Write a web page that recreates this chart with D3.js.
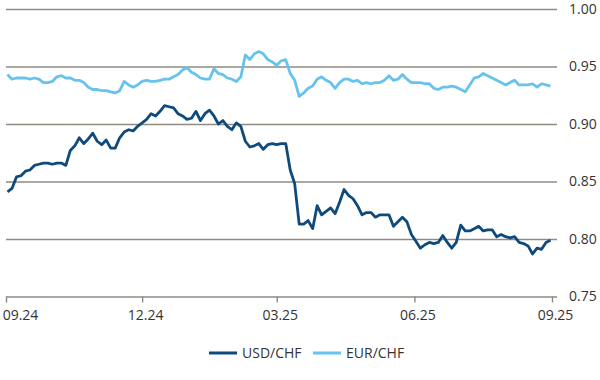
<!DOCTYPE html>
<html>
<head>
<meta charset="utf-8">
<script src="https://cdn.jsdelivr.net/npm/d3@7"></script>
<style>
  body { margin: 0; background: #fff; }
  text { font-family: "Open Sans", "Noto Sans", sans-serif; fill: #333; }
</style>
</head>
<body>
<div id="chart"></div>
<script>
    const usdchf = [
        0.841, 0.844, 0.854, 0.855, 0.859, 0.860, 0.864, 0.865, 0.866, 0.866,
        0.865, 0.866, 0.866, 0.864, 0.877, 0.881, 0.888, 0.883, 0.887, 0.892,
        0.885, 0.882, 0.886, 0.879, 0.879, 0.888, 0.893, 0.895, 0.894, 0.898,
        0.901, 0.904, 0.909, 0.907, 0.911, 0.916, 0.915, 0.914, 0.909, 0.907,
        0.904, 0.905, 0.911, 0.903, 0.909, 0.912, 0.907, 0.900, 0.903, 0.898,
        0.895, 0.901, 0.898, 0.885, 0.880, 0.881, 0.883, 0.878, 0.882, 0.883,
        0.882, 0.883, 0.883, 0.860, 0.848, 0.813, 0.813, 0.816, 0.809, 0.829,
        0.821, 0.824, 0.827, 0.822, 0.832, 0.843, 0.838, 0.835, 0.829, 0.821,
        0.823, 0.823, 0.819, 0.821, 0.821, 0.821, 0.811, 0.815, 0.819, 0.815,
        0.804, 0.798, 0.792, 0.795, 0.797, 0.796, 0.797, 0.803, 0.797, 0.792,
        0.797, 0.812, 0.807, 0.807, 0.809, 0.811, 0.807, 0.808, 0.808, 0.802,
        0.804, 0.802, 0.801, 0.802, 0.797, 0.796, 0.794, 0.787, 0.792, 0.791,
        0.797, 0.799
    ];
    const eurchf = [
        0.943, 0.939, 0.940, 0.940, 0.940, 0.939, 0.940, 0.939, 0.936, 0.936,
        0.937, 0.941, 0.942, 0.940, 0.940, 0.938, 0.938, 0.936, 0.932, 0.930,
        0.930, 0.929, 0.929, 0.928, 0.927, 0.929, 0.937, 0.934, 0.932, 0.934,
        0.937, 0.938, 0.937, 0.937, 0.938, 0.939, 0.939, 0.941, 0.943, 0.947,
        0.949, 0.945, 0.943, 0.940, 0.939, 0.939, 0.948, 0.944, 0.943, 0.940,
        0.939, 0.937, 0.941, 0.960, 0.956, 0.961, 0.963, 0.961, 0.956, 0.954,
        0.951, 0.955, 0.956, 0.944, 0.938, 0.924, 0.927, 0.931, 0.933, 0.939,
        0.941, 0.938, 0.936, 0.931, 0.936, 0.939, 0.939, 0.937, 0.938, 0.935,
        0.936, 0.935, 0.936, 0.936, 0.938, 0.942, 0.938, 0.939, 0.943, 0.939,
        0.936, 0.936, 0.936, 0.935, 0.935, 0.931, 0.930, 0.932, 0.932, 0.933,
        0.932, 0.930, 0.928, 0.934, 0.940, 0.941, 0.944, 0.942, 0.940, 0.938,
        0.936, 0.934, 0.936, 0.938, 0.934, 0.934, 0.934, 0.935, 0.932, 0.935,
        0.934, 0.933
    ];
    const seriesNames = ['USD/CHF', 'EUR/CHF'];
    const yTicks = [0.75, 0.80, 0.85, 0.90, 0.95, 1.00];
    const xTickDates = ['2024-09-01', '2024-12-01', '2025-03-01', '2025-06-01', '2025-09-01'];

    const width = 600;
    const height = 380;
    const colors = ['#0e4a7c', '#66c3ee'];
    const gridColor = '#8f8b82';

    const parse = d3.timeParse('%Y-%m-%d');
    const start = parse('2024-09-02');
    const dates = usdchf.map((d, i) => d3.timeDay.offset(start, 3 * i));

    const svg = d3.select('#chart').append('svg')
        .attr('width', width)
        .attr('height', height);

    const x = d3.scaleTime()
        .domain([parse(xTickDates[0]), parse(xTickDates[xTickDates.length - 1])])
        .range([6, 552]);

    const y = d3.scaleLinear()
        .domain([0.75, 1.00])
        .range([296.5, 9]);

    const plotRight = 557;

    // Gitterlinien + Beschriftung rechts
    const yAxis = svg.append('g')
        .attr('transform', 'translate(' + plotRight + ',0)')
        .call(d3.axisRight(y)
            .tickValues(yTicks)
            .tickSize(-(plotRight - x.range()[0]))
            .tickPadding(12)
            .tickFormat(d3.format('.2f')));
    yAxis.select('.domain').remove();
    yAxis.selectAll('line').attr('stroke', gridColor).attr('stroke-width', 1.4);
    yAxis.selectAll('text').style('font-size', '14px').attr('fill', '#333');

    // x-Achse
    const xAxis = svg.append('g')
        .attr('transform', 'translate(0,' + y(0.75) + ')')
        .call(d3.axisBottom(x)
            .tickValues(xTickDates.map(parse))
            .tickSize(6)
            .tickPadding(8)
            .tickFormat(d3.timeFormat('%m.%y')));
    xAxis.select('.domain').remove();
    xAxis.selectAll('line').attr('stroke', gridColor).attr('stroke-width', 1.4);
    xAxis.selectAll('text').style('font-size', '14px').attr('fill', '#333')
        .attr('dx', (d, i) => i === 0 ? 14 : 3);

    // Linien
    const line = d3.line()
        .x((d, i) => x(dates[i]))
        .y(d => y(d));

    svg.append('g')
        .selectAll('path')
        .data([usdchf, eurchf])
        .enter()
        .append('path')
        .attr('d', line)
        .attr('fill', 'none')
        .attr('stroke', (d, i) => colors[i])
        .attr('stroke-width', 2.8)
        .attr('stroke-linejoin', 'round');

    // Legende
    const legend = svg.append('g')
        .attr('transform', 'translate(209,353)');
    const items = legend.selectAll('g')
        .data(seriesNames)
        .enter().append('g')
        .attr('transform', (d, i) => 'translate(' + i * 104 + ',0)');
    items.append('line')
        .attr('x1', 0).attr('x2', 28)
        .attr('stroke', (d, i) => colors[i])
        .attr('stroke-width', 3);
    items.append('text')
        .attr('x', 33)
        .attr('dy', '0.35em')
        .style('font-size', '14px')
        .text(d => d);
</script>
</body>
</html>
